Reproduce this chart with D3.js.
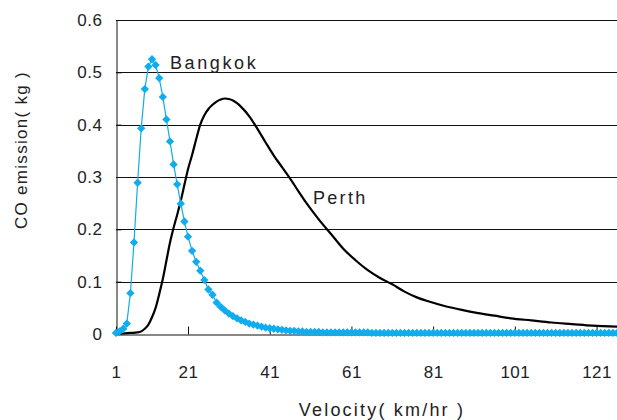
<!DOCTYPE html>
<html>
<head>
<meta charset="utf-8">
<script src="https://cdn.jsdelivr.net/npm/d3@7"></script>
<style>
  body { margin: 0; background: #fff; }
  text { font-family: "Liberation Sans", Arial, sans-serif; fill: #222; }
</style>
</head>
<body>
<div id="chart"></div>
<script>
// Bangkok: one value per km/hr, 1..126
const bangkokSpeed = d3.range(1, 127);
const bangkokCO = [
  0.002, 0.005, 0.010, 0.020, 0.078, 0.175, 0.289, 0.393, 0.468, 0.511,
  0.525, 0.514, 0.489, 0.453, 0.410, 0.368, 0.324, 0.286, 0.249, 0.215,
  0.186, 0.159, 0.138, 0.121, 0.103, 0.085, 0.075, 0.060, 0.052, 0.045,
  0.039, 0.034, 0.030, 0.026, 0.023, 0.020, 0.018, 0.016, 0.014, 0.012,
  0.011, 0.010, 0.009, 0.008, 0.007, 0.006, 0.006, 0.005, 0.005, 0.004,
  0.004, 0.004, 0.004, 0.003, 0.003, 0.003, 0.003, 0.003, 0.003, 0.003,
  0.003, 0.003, 0.003, 0.003, 0.003, 0.002, 0.002, 0.002, 0.002, 0.002,
  0.002, 0.002, 0.002, 0.002, 0.002, 0.002, 0.002, 0.002, 0.002, 0.002,
  0.002, 0.002, 0.002, 0.002, 0.002, 0.002, 0.002, 0.002, 0.002, 0.002,
  0.002, 0.002, 0.002, 0.002, 0.002, 0.002, 0.002, 0.002, 0.002, 0.002,
  0.002, 0.002, 0.002, 0.002, 0.002, 0.002, 0.002, 0.002, 0.002, 0.002,
  0.002, 0.002, 0.002, 0.002, 0.002, 0.002, 0.002, 0.002, 0.002, 0.002,
  0.002, 0.002, 0.002, 0.002, 0.002, 0.002
];

// Perth: smooth curve, read at these speeds
const perthSpeed = [1, 3, 5, 7, 8, 9, 10, 11, 12, 13, 14, 15, 16, 17, 18, 19, 20,
  21, 22, 23, 24, 25, 26, 27, 28, 29, 30, 31, 32, 33, 34, 36, 38, 40, 42, 44,
  46, 48, 50, 53, 56, 59, 62, 65, 68, 71, 74, 77, 80, 84, 88, 92, 96, 100,
  105, 110, 115, 120, 126];
const perthCO = [0.000, 0.001, 0.002, 0.003, 0.005, 0.010, 0.018, 0.032, 0.050,
  0.076, 0.105, 0.140, 0.175, 0.203, 0.228, 0.255, 0.285, 0.315, 0.342, 0.372,
  0.400, 0.418, 0.430, 0.438, 0.444, 0.448, 0.450, 0.449, 0.446, 0.441, 0.434,
  0.416, 0.392, 0.366, 0.341, 0.319, 0.297, 0.273, 0.250, 0.219, 0.191, 0.163,
  0.141, 0.122, 0.107, 0.095, 0.081, 0.070, 0.062, 0.053, 0.046, 0.040, 0.035,
  0.030, 0.026, 0.022, 0.019, 0.016, 0.014];

const xTicks = [1, 21, 41, 61, 81, 101, 121];
const yTicks = [0, 0.1, 0.2, 0.3, 0.4, 0.5, 0.6];

const width = 617, height = 420;
const margin = {top: 20, right: 0, bottom: 86, left: 116};

const svg = d3.select("#chart").append("svg")
    .attr("width", width)
    .attr("height", height);

// first label sits on the axis, the rest are evenly spaced
const x = d3.scaleLinear()
    .domain([1, 21, 126])
    .range([margin.left, 188, width - margin.right]);

const y = d3.scaleLinear()
    .domain([0, 0.6])
    .range([height - margin.bottom, margin.top]);

// gridlines
svg.append("g")
    .selectAll("line")
    .data(yTicks.slice(1))
    .join("line")
    .attr("x1", margin.left)
    .attr("x2", width - margin.right)
    .attr("y1", d => Math.round(y(d)) + 0.5)
    .attr("y2", d => Math.round(y(d)) + 0.5)
    .attr("stroke", "#111")
    .attr("stroke-width", 1);

const xAxis = g => g
    .attr("transform", `translate(0,${Math.round(y(0)) + 0.5})`)
    .call(d3.axisBottom(x).tickValues(xTicks).tickSize(-8).tickPadding(31).tickSizeOuter(0))
    .call(g => g.select(".domain").attr("stroke", "#111"))
    .call(g => g.selectAll(".tick line").attr("stroke", "#111"))
    .call(g => g.selectAll(".tick text")
        .attr("font-size", 17)
        .attr("letter-spacing", 0.5)
        .attr("fill", "#222"));

const yAxis = g => g
    .attr("transform", `translate(${margin.left + 0.5},0)`)
    .call(d3.axisLeft(y).tickValues(yTicks).tickFormat(d => d === 0 ? "0" : d3.format(".1f")(d))
        .tickSize(-5).tickPadding(14).tickSizeOuter(0))
    .call(g => g.select(".domain").attr("stroke", "#111"))
    .call(g => g.selectAll(".tick line").attr("stroke", "#111"))
    .call(g => g.selectAll(".tick text")
        .attr("font-size", 17)
        .attr("letter-spacing", 0.5)
        .attr("fill", "#222"));

svg.append("g").call(xAxis);
svg.append("g").call(yAxis);

// Perth
const perth = perthSpeed.map((s, i) => [s, perthCO[i]]);
svg.append("path")
    .datum(perth)
    .attr("fill", "none")
    .attr("stroke", "#000")
    .attr("stroke-width", 2.2)
    .attr("d", d3.line()
        .x(d => x(d[0]))
        .y(d => y(d[1]))
        .curve(d3.curveMonotoneX));

// Bangkok
const bangkok = bangkokSpeed.map((s, i) => [s, bangkokCO[i]]);
const blue = "#0fadee";
svg.append("path")
    .datum(bangkok)
    .attr("fill", "none")
    .attr("stroke", blue)
    .attr("stroke-width", 1.2)
    .attr("d", d3.line()
        .x(d => x(d[0]))
        .y(d => y(d[1])));

svg.append("g")
    .attr("fill", blue)
    .selectAll("path")
    .data(bangkok)
    .join("path")
    .attr("transform", d => `translate(${x(d[0])},${y(d[1])})`)
    .attr("d", d3.symbol(d3.symbolDiamond2, 44));

// series labels
svg.append("text")
    .attr("x", 170)
    .attr("y", 69)
    .attr("font-size", 18)
    .attr("letter-spacing", 2.6)
    .text("Bangkok");

svg.append("text")
    .attr("x", 313)
    .attr("y", 204)
    .attr("font-size", 18)
    .attr("letter-spacing", 2.3)
    .text("Perth");

// axis titles
svg.append("text")
    .attr("x", 382)
    .attr("y", 416)
    .attr("text-anchor", "middle")
    .attr("font-size", 18)
    .attr("letter-spacing", 2.2)
    .text("Velocity( km/hr )");

svg.append("text")
    .attr("transform", "translate(27,150) rotate(-90)")
    .attr("text-anchor", "middle")
    .attr("font-size", 17)
    .attr("letter-spacing", 1.3)
    .text("CO emission( kg )");
</script>
</body>
</html>
